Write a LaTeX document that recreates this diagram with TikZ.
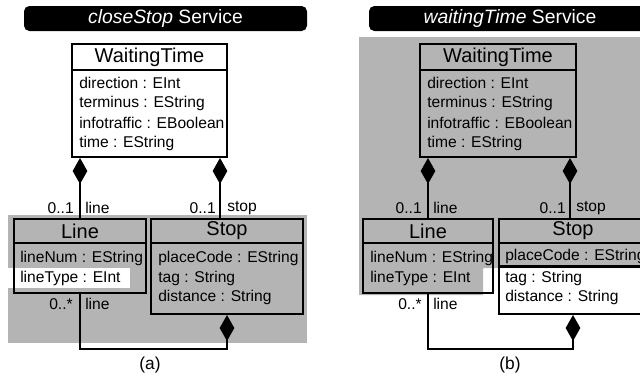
\documentclass[tikz,border=0pt]{standalone}
\usepackage{fontspec}
\setmainfont{Liberation Sans}
\usetikzlibrary{arrows.meta,fit}
\definecolor{bggray}{RGB}{180,180,180}
\tikzset{
  umlbox/.style={draw=black, line width=1.5pt, inner sep=0pt},
  titlebar/.style={fill=black, rounded corners=4pt, inner sep=0pt},
  bartext/.style={text=white, inner sep=0pt, font=\fontsize{14.5}{17}\selectfont},
  head/.style={inner sep=0pt, font=\fontsize{15}{17}\selectfont},
  attr/.style={inner sep=0pt, anchor=west, font=\fontsize{11.7}{14}\selectfont},
  lbl/.style={inner sep=0pt, font=\fontsize{11.7}{14}\selectfont},
  caplbl/.style={inner sep=0pt, font=\fontsize{13}{15}\selectfont},
  sepline/.style={line width=1.5pt},
  comp/.style={line width=1.5pt, {Diamond[length=19.5pt,width=11pt]}-},
}
\begin{document}
\begin{tikzpicture}[x=0.75pt,y=-0.75pt]
\path[use as bounding box] (0,0) rectangle (640,383);
\clip (0,0) rectangle (640,383);
% ---------------- panel (a) ----------------
\fill[bggray] (8,215) rectangle (307,343);
\fill[white] (8,268) rectangle (130,288);
\node[titlebar, fit={(24,6)(307,31)}] (ta) {};
\node[bartext] (tat) at (ta.center) {\textit{closeStop} Service};
\coordinate (hsep) at (0,70);
\coordinate (lsep) at (0,243);
\node[umlbox, fit={(72,44)(227,157)}] (wa) {};
\draw[sepline] (wa.west |- hsep) -- (wa.east |- hsep);
\node[head] (wah) at (149.5,57) {WaitingTime};
\node[attr] (wa1) at (79,83) {direction : EInt};
\node[attr] (wa2) at (79,103) {terminus : EString};
\node[attr] (wa3) at (79,123) {infotraffic : EBoolean};
\node[attr] (wa4) at (79,143) {time : EString};
\node[umlbox, fit={(14,219)(146,293)}] (la) {};
\draw[sepline] (la.west |- lsep) -- (la.east |- lsep);
\node[head] (lah) at (80,231) {Line};
\node[attr] (la1) at (20,258) {lineNum : EString};
\node[attr] (la2) at (20,278) {lineType : EInt};
\node[umlbox, fit={(151,219)(303,314)}] (sa) {};
\draw[sepline] (sa.west |- lsep) -- (sa.east |- lsep);
\node[head] (sah) at (227,231) {Stop};
\node[attr] (sa1) at (158,258) {placeCode : EString};
\node[attr] (sa2) at (158,278) {tag : String};
\node[attr] (sa3) at (158,297) {distance : String};
\coordinate (ax2) at (220,0);
\draw[comp] (wa.south -| la.north) -- (la.north);
\draw[comp] (wa.south -| ax2) -- (sa.north -| ax2);
\draw[comp] (sa.south) -- ++(0,34) -| (la.south);
\node[lbl, anchor=east] (a1) at (74,208) {0..1};
\node[lbl, anchor=west] (a2) at (85,208) {line};
\node[lbl, anchor=east] (a3) at (216,208) {0..1};
\node[lbl, anchor=west] (a4) at (227,208) {stop};
\node[lbl, anchor=east] (a5) at (73,304) {0..*};
\node[lbl, anchor=west] (a6) at (85,304) {line};
\node[caplbl] (capa) at (150,365) {(a)};
% ---------------- panel (b) ----------------
\fill[bggray] (359,37) -- (660,37) -- (660,268) -- (483,268) -- (483,295) -- (359,295) -- cycle;
\node[titlebar, fit={(369,6)(652,31)}] (tb) {};
\node[bartext] (tbt) at (510,18.5) {\textit{waitingTime} Service};
\node[umlbox, fit={(420,44)(576,157)}] (wb) {};
\draw[sepline] (wb.west |- hsep) -- (wb.east |- hsep);
\node[head] (wbh) at (498,57) {WaitingTime};
\node[attr] (wb1) at (427,83) {direction : EInt};
\node[attr] (wb2) at (427,103) {terminus : EString};
\node[attr] (wb3) at (427,123) {infotraffic : EBoolean};
\node[attr] (wb4) at (427,143) {time : EString};
\node[umlbox, fit={(363,219)(493,293)}] (lb) {};
\draw[sepline] (lb.west |- lsep) -- (lb.east |- lsep);
\node[head] (lbh) at (428,231) {Line};
\node[attr] (lb1) at (370,258) {lineNum : EString};
\node[attr] (lb2) at (370,278) {lineType : EInt};
\node[umlbox, fit={(499,219)(647,314)}] (sb) {};
\draw[sepline] (sb.west |- lsep) -- (sb.east |- lsep);
\coordinate (tsep) at (0,266.5);
\draw[line width=1.6pt] (sb.west |- tsep) -- (sb.east |- tsep);
\node[head] (sbh) at (573,231) {Stop};
\node[attr] (sb1) at (505,258) {\underline{placeCode : EString}};
\node[attr] (sb2) at (505,278) {tag : String};
\node[attr] (sb3) at (505,297) {distance : String};
\coordinate (bx2) at (570,0);
\draw[comp] (wb.south -| lb.north) -- (lb.north);
\draw[comp] (wb.south -| bx2) -- (sb.north -| bx2);
\draw[comp] (sb.south) -- ++(0,34) -| (lb.south);
\node[lbl, anchor=east] (b1) at (422,208) {0..1};
\node[lbl, anchor=west] (b2) at (433,208) {line};
\node[lbl, anchor=east] (b3) at (566,208) {0..1};
\node[lbl, anchor=west] (b4) at (576,208) {stop};
\node[lbl, anchor=east] (b5) at (422,304) {0..*};
\node[lbl, anchor=west] (b6) at (433,304) {line};
\node[caplbl] (capb) at (510,365) {(b)};
\end{tikzpicture}
\end{document}
